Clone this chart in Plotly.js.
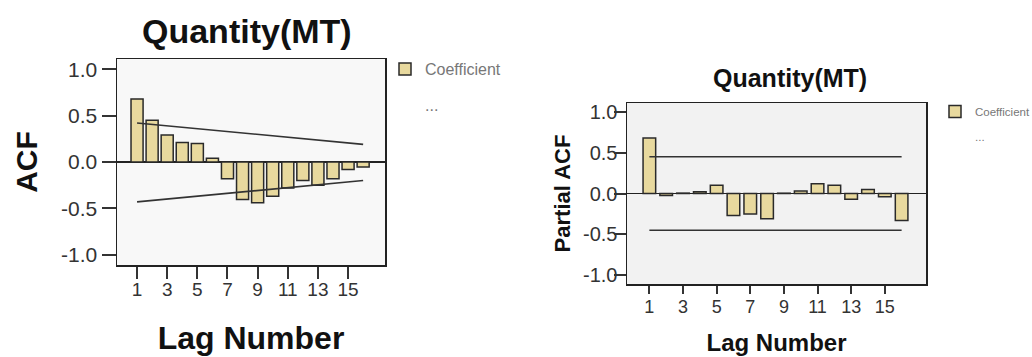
<!DOCTYPE html>
<html>
<head>
<meta charset="utf-8">
<script src="https://cdn.plot.ly/plotly-3.0.1.min.js"></script>
<style>
html,body{margin:0;padding:0;background:#fff;}
#chart{width:1032px;height:357px;overflow:hidden;}
</style>
</head>
<body>
<div id="chart"></div>
<script>
// ---- data ----
const lags = [1,2,3,4,5,6,7,8,9,10,11,12,13,14,15,16];
const acfValues = [0.68,0.45,0.29,0.21,0.20,0.04,-0.18,-0.405,-0.44,-0.37,-0.28,-0.20,-0.25,-0.18,-0.08,-0.055];
const acfUpperLagEnds = [1,16];
const acfUpperLimit = [0.42,0.19];
const acfLowerLimit = [-0.43,-0.20];
const pacfValues = [0.68,-0.025,0.005,0.02,0.10,-0.27,-0.25,-0.31,0.004,0.03,0.12,0.10,-0.07,0.05,-0.04,-0.33];
const pacfLagEnds = [1,16];
const pacfUpperLimit = [0.45,0.45];
const pacfLowerLimit = [-0.45,-0.45];
const xTickVals = [1,3,5,7,9,11,13,15];
const yTickVals = [-1.0,-0.5,0.0,0.5,1.0];
const yTickText = ['-1.0','-0.5','0.0','0.5','1.0'];
const chartTitle = 'Quantity(MT)';
const legendBarName = 'Coefficient';
const legendLineName = '...';

// ---- styles ----
const barFill = '#e8d99e';
const barEdge = '#2a2a2a';
const limColor = '#333333';
const FONT = 'Liberation Sans, Arial, sans-serif';

const traces = [
  {type:'bar', x:lags, y:acfValues, xaxis:'x', yaxis:'y', name:legendBarName,
   marker:{color:barFill, line:{color:barEdge, width:1.5}}, width:0.8,
   legend:'legend', legendgroup:'a1', showlegend:true},
  {type:'scatter', mode:'lines', x:acfUpperLagEnds, y:acfUpperLimit, xaxis:'x', yaxis:'y',
   line:{color:limColor, width:1.6}, showlegend:false},
  {type:'scatter', mode:'lines', x:acfUpperLagEnds, y:acfLowerLimit, xaxis:'x', yaxis:'y',
   line:{color:limColor, width:1.6}, showlegend:false},
  {type:'scatter', mode:'lines', x:[null], y:[null], xaxis:'x', yaxis:'y', name:legendLineName,
   line:{color:'rgba(0,0,0,0)', width:0}, legend:'legend', legendgroup:'a2', showlegend:true},

  {type:'bar', x:lags, y:pacfValues, xaxis:'x2', yaxis:'y2', name:legendBarName,
   marker:{color:barFill, line:{color:barEdge, width:1.5}}, width:0.75,
   legend:'legend2', legendgroup:'b1', showlegend:true},
  {type:'scatter', mode:'lines', x:pacfLagEnds, y:pacfUpperLimit, xaxis:'x2', yaxis:'y2',
   line:{color:limColor, width:1.6}, showlegend:false},
  {type:'scatter', mode:'lines', x:pacfLagEnds, y:pacfLowerLimit, xaxis:'x2', yaxis:'y2',
   line:{color:limColor, width:1.6}, showlegend:false},
  {type:'scatter', mode:'lines', x:[null], y:[null], xaxis:'x2', yaxis:'y2', name:legendLineName,
   line:{color:'rgba(0,0,0,0)', width:0}, legend:'legend2', legendgroup:'b2', showlegend:true}
];

function xAxis(domain, anchor, tickSize, titleSize, ticklen, lblOff, standoff){
  return {domain:domain, anchor:anchor, range:[-0.33,17.45], tickvals:xTickVals,
    ticks:'outside', ticklen:ticklen, tickwidth:2, tickcolor:'#333', ticklabelstandoff:lblOff,
    showline:true, linecolor:'#222', linewidth:1.5, mirror:true,
    showgrid:false, zeroline:false, automargin:false,
    tickfont:{family:FONT, size:tickSize, color:'#333'},
    title:{text:'Lag Number', font:{family:FONT, size:titleSize, color:'#111', weight:'bold'}, standoff:standoff},
    fixedrange:true};
}
function yAxis(domain, anchor, tickSize, titleText, titleSize, ticklen, lblOff, standoff){
  return {domain:domain, anchor:anchor, range:[-1.11,1.11], tickvals:yTickVals, ticktext:yTickText,
    ticks:'outside', ticklen:ticklen, tickwidth:2, tickcolor:'#333', ticklabelstandoff:lblOff,
    showline:true, linecolor:'#222', linewidth:1.5, mirror:true,
    showgrid:false, zeroline:true, zerolinecolor:'#222', zerolinewidth:1.5, automargin:false,
    tickfont:{family:FONT, size:tickSize, color:'#333'},
    title:{text:titleText, font:{family:FONT, size:titleSize, color:'#111', weight:'bold'}, standoff:standoff},
    fixedrange:true};
}

const W = 1032, H = 357;
const layout = {
  width:W, height:H,
  margin:{l:0,r:0,t:0,b:0,autoexpand:false},
  paper_bgcolor:'#ffffff',
  plot_bgcolor:'#f8f8f8',
  showlegend:true,
  barmode:'overlay',
  xaxis: xAxis([117/W, 385/W], 'y', 19, 32, 12, -5, 27),
  yaxis: yAxis([1-265/H, 1-59/H], 'x', 21, 'ACF', 30, 14, 0, 14),
  xaxis2: xAxis([627/W, 926/W], 'y2', 18, 24, 8, -2, 18),
  yaxis2: yAxis([1-284/H, 1-103/H], 'x2', 20, 'Partial ACF', 22, 12, -8, 6),
  legend:{x:385/W, y:1-52/H, xanchor:'left', yanchor:'top', bgcolor:'rgba(0,0,0,0)',
    font:{family:FONT, size:16, color:'#777'}, tracegroupgap:12, itemwidth:30},
  legend2:{x:935/W, y:1-97/H, xanchor:'left', yanchor:'top', bgcolor:'rgba(0,0,0,0)',
    font:{family:FONT, size:11.5, color:'#777'}, tracegroupgap:6, itemwidth:30},
  annotations:[
    {text:chartTitle, xref:'paper', yref:'paper', x:247/W, y:1-31/H, xanchor:'center', yanchor:'middle',
     showarrow:false, font:{family:FONT, size:34, color:'#111', weight:'bold'}},
    {text:chartTitle, xref:'paper', yref:'paper', x:790/W, y:1-78/H, xanchor:'center', yanchor:'middle',
     showarrow:false, font:{family:FONT, size:25, color:'#111', weight:'bold'}}
  ],
  shapes:[
    {type:'rect', xref:'x2 domain', yref:'y2 domain', x0:0, x1:1, y0:0, y1:1,
     fillcolor:'#f2f2f2', line:{width:0}, layer:'below'}
  ]
};
Plotly.newPlot('chart', traces, layout, {displayModeBar:false, staticPlot:true});
</script>
</body>
</html>
